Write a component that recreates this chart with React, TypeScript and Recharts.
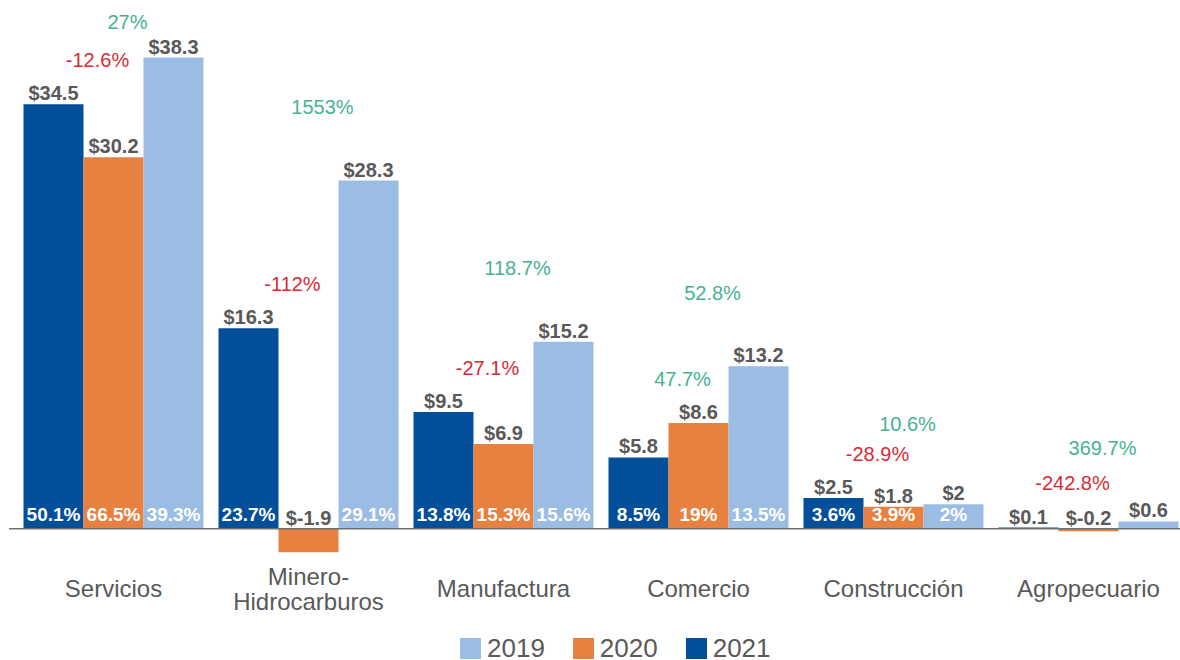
import React from 'react'
import {
  ComposedChart,
  Bar,
  Scatter,
  XAxis,
  YAxis,
  LabelList,
  Legend,
  ReferenceLine
} from 'recharts'

// Sectors
const categories = [
  'Servicios',
  'Minero-Hidrocarburos',
  'Manufactura',
  'Comercio',
  'Construcción',
  'Agropecuario'
]

// Amounts per series (bars drawn left to right: dark, orange, light)
const values2021 = [34.5, 16.3, 9.5, 5.8, 2.5, 0.1]
const values2020 = [30.2, -1.9, 6.9, 8.6, 1.8, -0.2]
const values2019 = [38.3, 28.3, 15.2, 13.2, 2, 0.6]

// Share labels written inside the bars
const share2021 = [50.1, 23.7, 13.8, 8.5, 3.6, null]
const share2020 = [66.5, null, 15.3, 19, 3.9, null]
const share2019 = [39.3, 29.1, 15.6, 13.5, 2, null]

// Growth labels above each group
const growthFirst = [-12.6, -112, -27.1, 47.7, -28.9, -242.8]
const growthSecond = [27, 1553, 118.7, 52.8, 10.6, 369.7]

const legendYears = ['2019', '2020', '2021']

const COLORS = {
  '2021': '#034f99',
  '2020': '#e8803f',
  '2019': '#9cbde3'
}
const TEXT = '#595959'
const GREEN = '#45b393'
const RED = '#db2a33'
const FONT = '"Liberation Sans", Arial, sans-serif'

const Y_MAX = 42
const Y_MIN = -4

const data = categories.map((name, i) => {
  const highFirst = Math.max(values2021[i], values2020[i])
  const highAll = Math.max(values2021[i], values2020[i], values2019[i])
  return {
    name,
    v2021: values2021[i],
    v2020: values2020[i],
    v2019: values2019[i],
    s2021: share2021[i],
    s2020: share2020[i],
    s2019: share2019[i],
    gA: growthFirst[i],
    gB: growthSecond[i],
    // anchor heights of the growth labels, a bit above the bars
    lvlA: highFirst + 3.6,
    lvlB: Math.min(highAll + 6, Y_MAX - 0.8)
  }
})

const box = (props: any) => {
  const vb = props.viewBox || props
  const x = Number(vb.x)
  const y = Number(vb.y)
  const w = Number(vb.width)
  const h = Number(vb.height)
  return { x, w, top: Math.min(y, y + h), bottom: Math.max(y, y + h) }
}

const ValueLabel = (props: any) => {
  const { value } = props
  if (value === null || value === undefined) return null
  const { x, w, top } = box(props)
  return (
    <text
      x={x + w / 2}
      y={top - 4}
      textAnchor="middle"
      fill={TEXT}
      fontSize={20}
      fontWeight={700}
      fontFamily={FONT}
    >
      {`$${value}`}
    </text>
  )
}

const ShareLabel = (props: any) => {
  const { value } = props
  if (value === null || value === undefined) return null
  const { x, w, bottom } = box(props)
  return (
    <text
      x={x + w / 2}
      y={bottom - 8}
      textAnchor="middle"
      fill="#ffffff"
      fontSize={19}
      fontWeight={700}
      fontFamily={FONT}
    >
      {`${value}%`}
    </text>
  )
}

const growthShape = (key: 'gA' | 'gB', dx: number) => (props: any) => {
  const { cx, cy, payload } = props
  const v = payload[key]
  return (
    <text
      x={cx + dx}
      y={cy + 7}
      textAnchor="middle"
      fill={v < 0 ? RED : GREEN}
      fontSize={20}
      fontFamily={FONT}
    >
      {`${v}%`}
    </text>
  )
}

const CategoryTick = (props: any) => {
  const { x, y, payload } = props
  const name: string = payload.value
  const cut = name.indexOf('-')
  const lines = cut > 0 ? [name.slice(0, cut + 1), name.slice(cut + 1)] : [name]
  const start = 19 - ((lines.length - 1) * 25) / 2
  return (
    <g>
      {lines.map((line, i) => (
        <text
          key={i}
          x={x}
          y={y + start + i * 25}
          textAnchor="middle"
          fill={TEXT}
          fontSize={24}
          fontFamily={FONT}
        >
          {line}
        </text>
      ))}
    </g>
  )
}

const LegendContent = () => (
  <div style={{ display: 'flex', fontFamily: FONT, height: 22, alignItems: 'center' }}>
    {legendYears.map((year, i) => (
      <div
        key={year}
        style={{
          display: 'flex',
          alignItems: 'center',
          marginRight: i < legendYears.length - 1 ? 28 : 0
        }}
      >
        <span
          style={{ width: 21, height: 21, background: COLORS[year], marginRight: 6 }}
        />
        <span style={{ fontSize: 26, lineHeight: '22px', color: TEXT }}>{year}</span>
      </div>
    ))}
  </div>
)

export default function App() {
  return (
    <div
      style={{
        position: 'absolute',
        left: 0,
        top: 0,
        width: 1180,
        height: 660,
        overflow: 'hidden',
        background: '#fff'
      }}
    >
      <ComposedChart
        width={1186}
        height={660}
        data={data}
        margin={{ top: 12, right: 0, left: 16, bottom: 42 }}
        barCategoryGap={7.5}
        barGap={0}
      >
        <XAxis
          dataKey="name"
          axisLine={false}
          tickLine={false}
          tickSize={0}
          tickMargin={0}
          height={40}
          interval={0}
          tick={<CategoryTick />}
        />
        <YAxis hide domain={[Y_MIN, Y_MAX]} />

        <Bar dataKey="v2021" fill={COLORS['2021']} isAnimationActive={false}>
          <LabelList dataKey="v2021" content={<ValueLabel />} />
          <LabelList dataKey="s2021" content={<ShareLabel />} />
        </Bar>
        <Bar dataKey="v2020" fill={COLORS['2020']} isAnimationActive={false}>
          <LabelList dataKey="v2020" content={<ValueLabel />} />
          <LabelList dataKey="s2020" content={<ShareLabel />} />
        </Bar>
        <Bar dataKey="v2019" fill={COLORS['2019']} isAnimationActive={false}>
          <LabelList dataKey="v2019" content={<ValueLabel />} />
          <LabelList dataKey="s2019" content={<ShareLabel />} />
        </Bar>

        {/* Axis line at zero, reaching a bit past the first group */}
        <ReferenceLine
          y={0}
          stroke="#6e6e6e"
          strokeWidth={1.5}
          shape={(p: any) => (
            <line
              x1={p.x1 - 7}
              y1={p.y1}
              x2={p.x2}
              y2={p.y2}
              stroke="#6e6e6e"
              strokeWidth={1.5}
            />
          )}
        />

        <Scatter dataKey="lvlA" isAnimationActive={false} shape={growthShape('gA', -16)} />
        <Scatter dataKey="lvlB" isAnimationActive={false} shape={growthShape('gB', 14)} />

        <Legend
          layout="horizontal"
          verticalAlign="middle"
          align="center"
          content={<LegendContent />}
          wrapperStyle={{ top: 637, left: 460, width: 330, height: 22, bottom: 'auto' }}
        />
      </ComposedChart>
    </div>
  )
}
